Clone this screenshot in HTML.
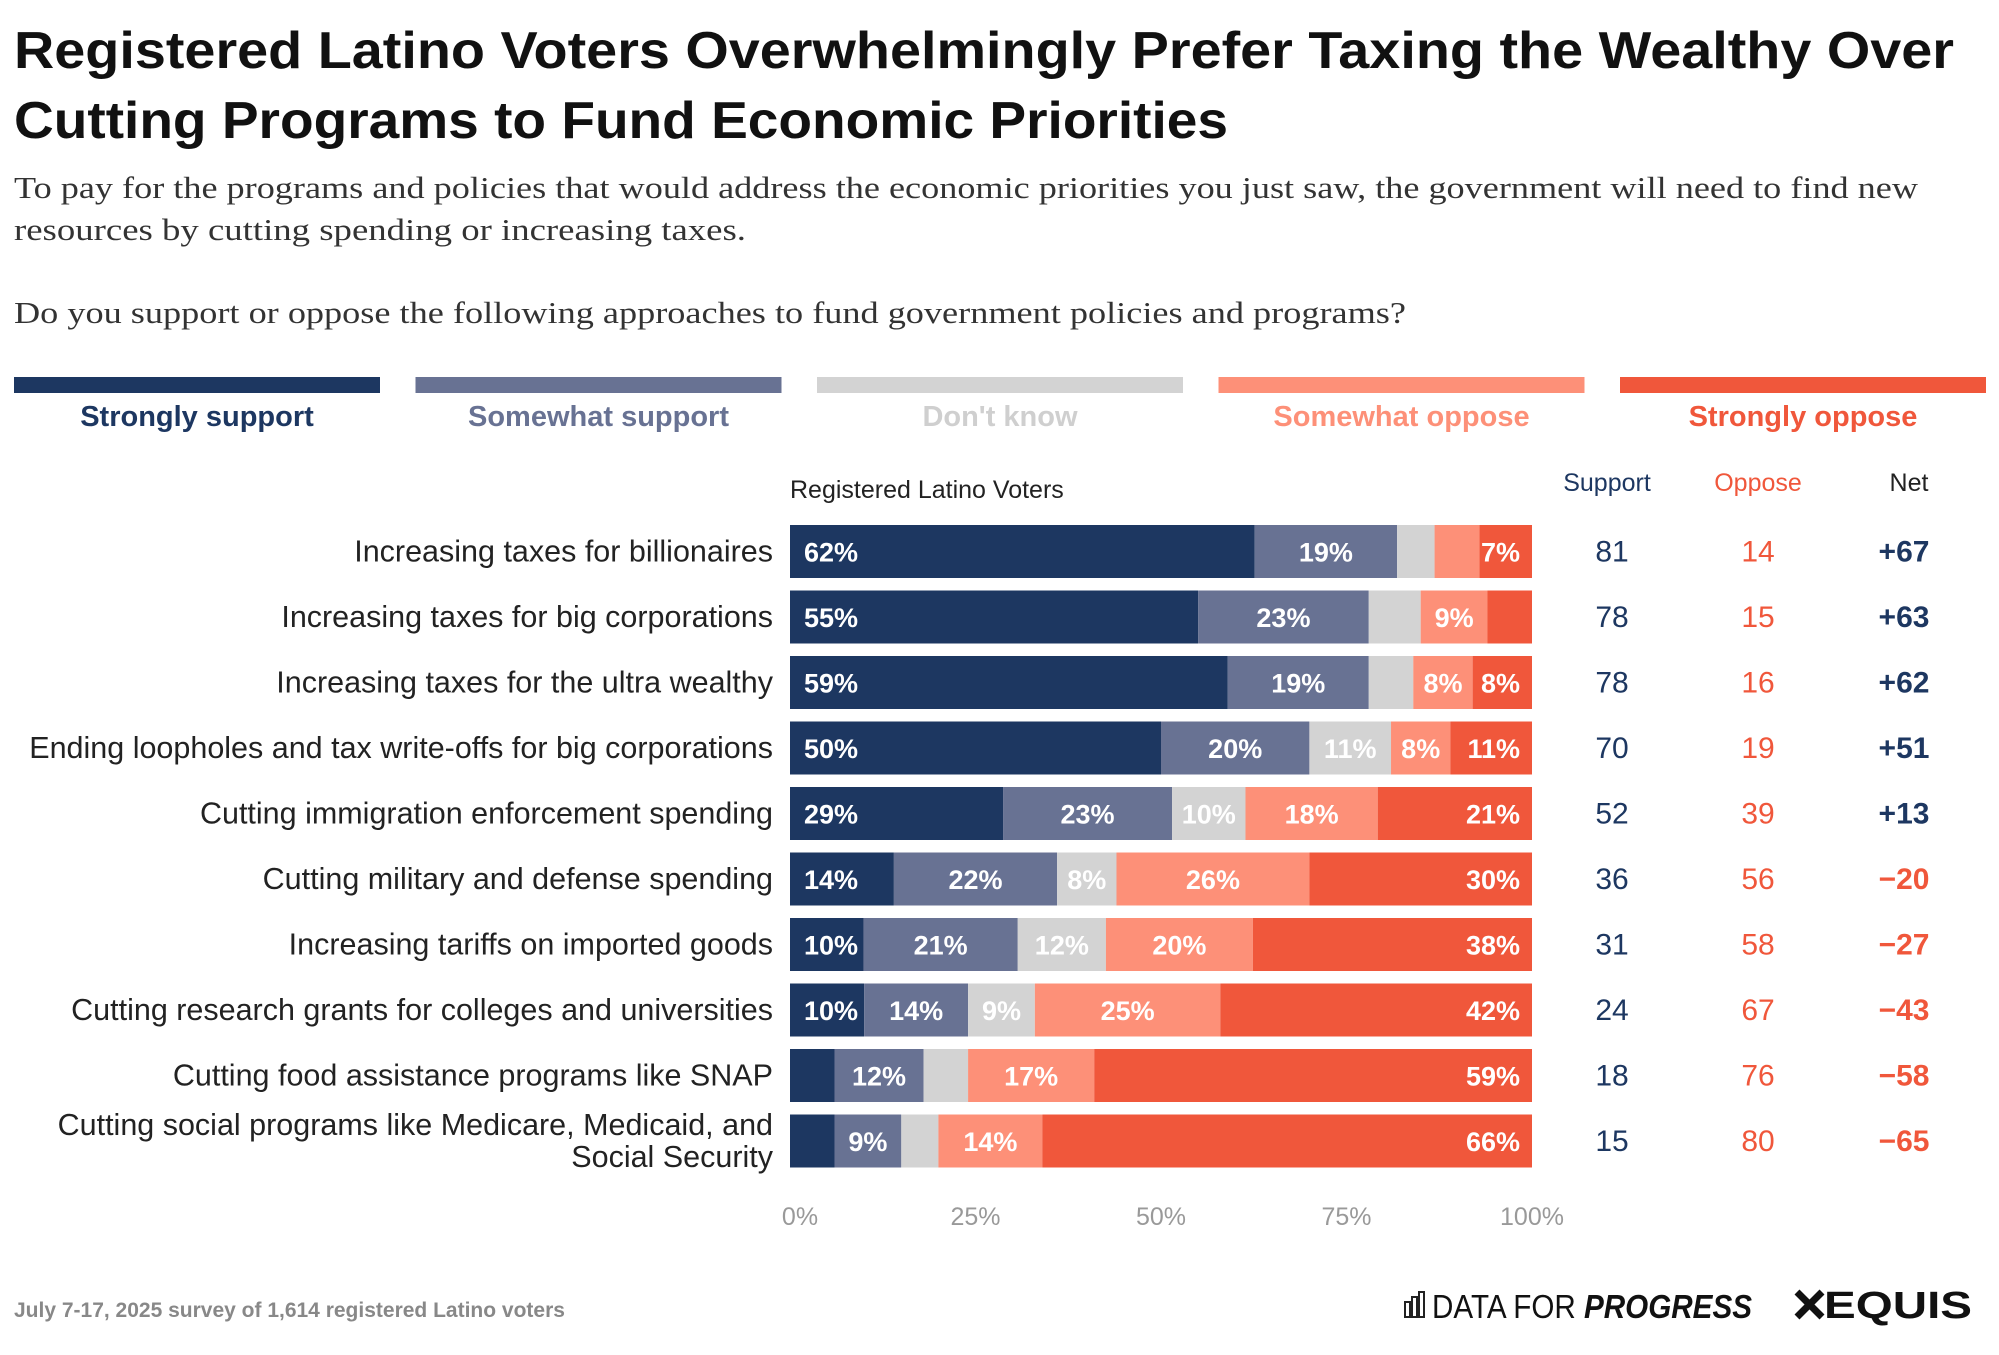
<!DOCTYPE html>
<html><head><meta charset="utf-8"><style>
html,body{margin:0;padding:0;background:#fff;}
svg{display:block;font-family:"Liberation Sans",sans-serif;}
</style></head><body>
<svg id="chart" width="1999" height="1355" viewBox="0 0 1999 1355">
<text x="14" y="68" font-size="52" font-weight="bold" fill="#111" textLength="1940" lengthAdjust="spacingAndGlyphs">Registered Latino Voters Overwhelmingly Prefer Taxing the Wealthy Over</text>
<text x="14" y="138" font-size="52" font-weight="bold" fill="#111" textLength="1214" lengthAdjust="spacingAndGlyphs">Cutting Programs to Fund Economic Priorities</text>
<text x="14" y="198" font-size="31" font-family="Liberation Serif, serif" fill="#333" textLength="1904" lengthAdjust="spacingAndGlyphs">To pay for the programs and policies that would address the economic priorities you just saw, the government will need to find new</text>
<text x="14" y="240" font-size="31" font-family="Liberation Serif, serif" fill="#333" textLength="732" lengthAdjust="spacingAndGlyphs">resources by cutting spending or increasing taxes.</text>
<text x="14" y="323" font-size="31" font-family="Liberation Serif, serif" fill="#333" textLength="1392" lengthAdjust="spacingAndGlyphs">Do you support or oppose the following approaches to fund government policies and programs?</text>
<g id="legend"></g>
<text x="790" y="498" font-size="25" fill="#222">Registered Latino Voters</text>
<text x="1607" y="491" font-size="25" fill="#1d3761" text-anchor="middle">Support</text>
<text x="1758" y="491" font-size="25" fill="#f0573b" text-anchor="middle">Oppose</text>
<text x="1909" y="491" font-size="25" fill="#222" text-anchor="middle">Net</text>
<g id="rows"></g>
<g id="ticks"></g>
<text x="14" y="1317" font-size="21" fill="#888" font-weight="bold">July 7-17, 2025 survey of 1,614 registered Latino voters</text>
<g>
<rect x="1405" y="1302" width="5" height="15" fill="none" stroke="#222" stroke-width="2"/>
<rect x="1412" y="1297" width="5" height="20" fill="none" stroke="#222" stroke-width="2"/>
<rect x="1419" y="1292" width="5" height="25" fill="none" stroke="#222" stroke-width="2"/>
<text x="1432" y="1318" font-size="33" fill="#111" textLength="320" lengthAdjust="spacingAndGlyphs">DATA FOR <tspan font-weight="bold" font-style="italic">PROGRESS</tspan></text>
</g>
<g>
<path d="M1797 1292 L1822 1317 M1822 1292 L1797 1317" stroke="#111" stroke-width="7"/>
<text x="1824" y="1318" font-size="38" font-weight="bold" fill="#111" textLength="148" lengthAdjust="spacingAndGlyphs">EQUIS</text>
</g>
</svg>
<script>
const categories=["Increasing taxes for billionaires","Increasing taxes for big corporations","Increasing taxes for the ultra wealthy","Ending loopholes and tax write-offs for big corporations","Cutting immigration enforcement spending","Cutting military and defense spending","Increasing tariffs on imported goods","Cutting research grants for colleges and universities","Cutting food assistance programs like SNAP","Cutting social programs like Medicare, Medicaid, and|Social Security"];
const stronglySupport=[62,55,59,50,29,14,10,10,6,6];
const somewhatSupport=[19,23,19,20,23,22,21,14,12,9];
const dontKnow=[5,7,6,11,10,8,12,9,6,5];
const somewhatOppose=[6,9,8,8,18,26,20,25,17,14];
const stronglyOppose=[7,6,8,11,21,30,38,42,59,66];
const supportTotals=[81,78,78,70,52,36,31,24,18,15];
const opposeTotals=[14,15,16,19,39,56,58,67,76,80];
const netValues=[67,63,62,51,13,-20,-27,-43,-58,-65];
const tickValues=[0,25,50,75,100];
const tickLabels=["0%","25%","50%","75%","100%"];
const legendLabels=["Strongly support","Somewhat support","Don't know","Somewhat oppose","Strongly oppose"];
const NS="http://www.w3.org/2000/svg";
const colors=["#1d3761","#687293","#d3d3d3","#fd9078","#f0573b"];
const textColors=["#1d3761","#687293","#cfcfcf","#fd9078","#f0573b"];
const X0=790,X1=1532,ROW0=525,PITCH=65.5,BH=53;
const x=v=>X0+(X1-X0)*v/100;
const y=i=>ROW0+i*PITCH;
function mk(tag,attrs,parent,txt){const e=document.createElementNS(NS,tag);for(const k in attrs)e.setAttribute(k,attrs[k]);if(txt!==undefined)e.textContent=txt;parent.appendChild(e);return e;}
const lg=document.getElementById('legend');
legendLabels.forEach((l,i)=>{
  const lx=14+i*401.5;
  const r=mk('rect',{x:lx,y:377,width:366,height:16,fill:colors[i]},lg);
  
  
  const t=mk('text',{x:lx+183,y:426,'font-size':29,'font-weight':'bold','text-anchor':'middle',fill:textColors[i]},lg,l);
  
  
});
const rows=document.getElementById('rows');
const series=[stronglySupport,somewhatSupport,dontKnow,somewhatOppose,stronglyOppose];
categories.forEach((c,i)=>{
  const g=mk('g',{},rows);
  
  
  const cy=y(i)+BH/2;
  const parts=c.split('|');
  if(parts.length===1){
    const t=mk('text',{x:773,y:cy+10,'font-size':30.5,'text-anchor':'end',fill:'#222'},g,parts[0]);
    
    
  } else {
    parts.forEach((p,k)=>{
      const t=mk('text',{x:773,y:cy-6+k*32,'font-size':30.5,'text-anchor':'end',fill:'#222'},g,p);
      
      
    });
  }
  const vals=series.map(s=>s[i]);
  const tot=vals.reduce((a,b)=>a+b,0);
  let acc=0;
  vals.forEach((v,k)=>{
    const a=acc/tot*100,b=(acc+v)/tot*100;acc+=v;
    const r=mk('rect',{x:x(a),y:y(i),width:x(b)-x(a),height:BH,fill:colors[k]},g);
    
    
    if(v>=8||(k===4&&v>=7)){
      let tx,anchor;
      if(k===0){tx=x(a)+14;anchor='start';}
      else if(k===4){tx=x(b)-12;anchor='end';}
      else {tx=(x(a)+x(b))/2;anchor='middle';}
      const t=mk('text',{x:tx,y:cy+10,'font-size':27,'font-weight':'bold','text-anchor':anchor,fill:'#fff'},g,v+'%');
      
      
    }
  });
  const s=mk('text',{x:1612,y:cy+10,'font-size':30,'text-anchor':'middle',fill:'#1d3761'},g,supportTotals[i]);
  
  
  const o=mk('text',{x:1758,y:cy+10,'font-size':30,'text-anchor':'middle',fill:'#f0573b'},g,opposeTotals[i]);
  
  
  const n=netValues[i];
  const nt=mk('text',{x:1904,y:cy+10,'font-size':30,'font-weight':'bold','text-anchor':'middle',fill:n>=0?'#1d3761':'#f0573b'},g,(n>=0?'+':'\u2212')+Math.abs(n));
  
  
});
const tg=document.getElementById('ticks');
tickValues.forEach((v,i)=>{
  let tx=x(v); if(i===0) tx+=10;
  const t=mk('text',{x:tx,y:1225,'font-size':25,'text-anchor':'middle',fill:'#999'},tg,tickLabels[i]);
  
  
});
</script>
</body></html>
